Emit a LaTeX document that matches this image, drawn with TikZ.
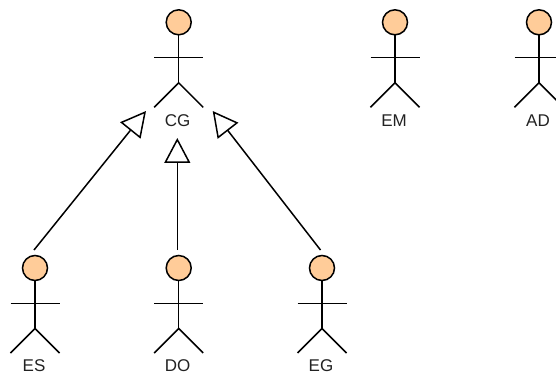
\documentclass[tikz,border=0pt]{standalone}
\usepackage{fontspec}
\setmainfont{Liberation Sans}
\usetikzlibrary{arrows,arrows.meta}
\definecolor{headfill}{HTML}{FFCC99}
\definecolor{labeltext}{HTML}{222222}
\tikzset{
	head/.style={circle, draw, line width=1.5pt, fill=headfill, minimum size=25pt, inner sep=0pt, outer sep=0pt},
	limb/.style={line width=1.5pt},
	caption/.style={text=labeltext, font=\fontsize{17}{19}\selectfont, inner sep=0pt},
	extends/.style={line width=1.5pt, -{Triangle[open, length=25pt, width=26pt, line width=1.5pt, fill=white]}}
}

\begin{document}
\begin{tikzpicture}[x=1pt, y=-1pt]
	\useasboundingbox (0,0) rectangle (556,374);
	% actors
	\foreach \nm/\cx/\cy/\txt in {cg/178.7/22.3/CG, em/395/22.3/EM, ad/539/22.3/AD, es/35/268/ES, do/178.7/268/DO, eg/322/268/EG} {
		\node[head] (\nm) at (\cx,\cy) {};
		\coordinate (\nm-armL) at (\cx-24.5,\cy+35.3);
		\coordinate (\nm-armR) at (\cx+24.5,\cy+35.3);
		\coordinate (\nm-hip) at (\cx,\cy+60.5);
		\coordinate (\nm-legL) at (\cx-24.5,\cy+85);
		\coordinate (\nm-legR) at (\cx+24.5,\cy+85);
		\draw[limb] (\nm.south) -- (\nm-hip);
		\draw[limb] (\nm-armL) -- (\nm-armR);
		\draw[limb] (\nm-legL) -- (\nm-hip) -- (\nm-legR);
		\node[caption] (\nm-label) at (\cx-1,\cy+98) {\txt};
	}
	% generalisations
	\coordinate (es-out) at (34,250);
	\coordinate (do-out) at (177.3,250);
	\coordinate (eg-out) at (320.5,250);
	\coordinate (cg-inL) at (146,111);
	\coordinate (cg-inB) at (177.3,138);
	\coordinate (cg-inR) at (212.7,111);
	\draw[extends] (es-out) -- (cg-inL);
	\draw[extends] (do-out) -- (cg-inB);
	\draw[extends] (eg-out) -- (cg-inR);
\end{tikzpicture}
\end{document}
